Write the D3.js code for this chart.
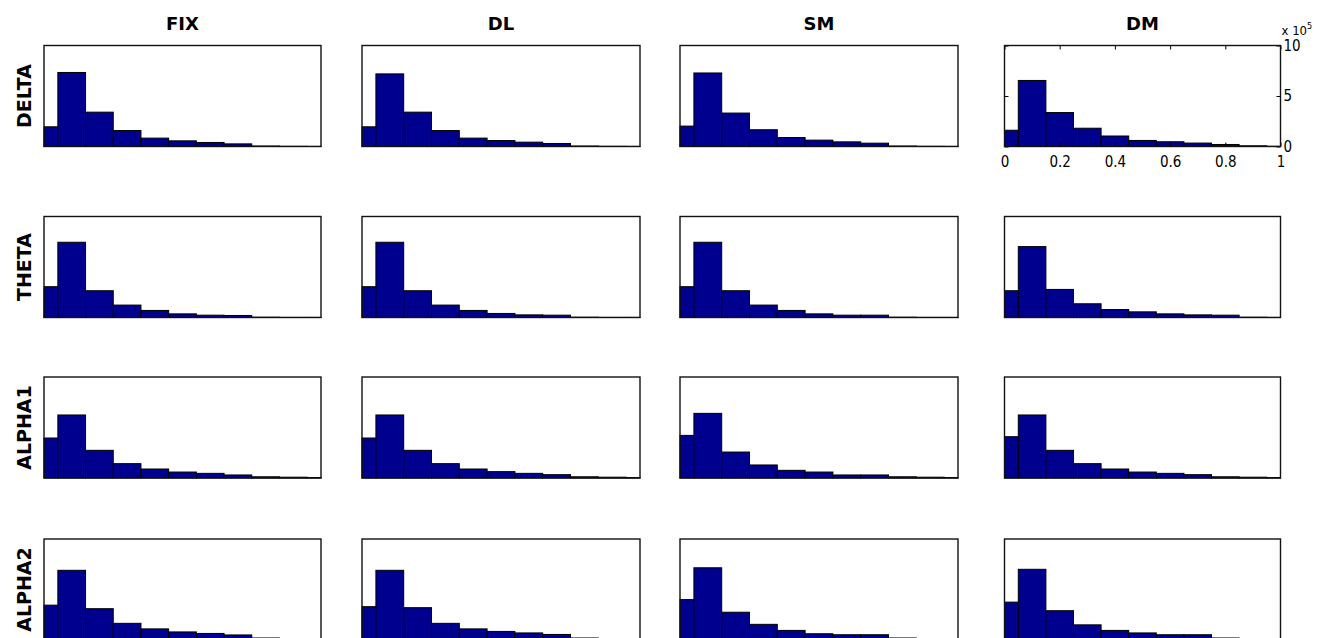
<!DOCTYPE html>
<html>
<head>
<meta charset="utf-8">
<script src="https://cdn.jsdelivr.net/npm/d3@7"></script>
<style>
  html, body { margin: 0; padding: 0; background: #fff; }
  svg { display: block; }
</style>
</head>
<body>
<svg id="chart" width="1333" height="638"></svg>
<script>
// ---------------- data (counts in units of 10^5) ----------------
const columnTitles = ["FIX", "DL", "SM", "DM"];
const rowTitles = ["DELTA", "THETA", "ALPHA1", "ALPHA2"];
const binCenters = [0, 0.1, 0.2, 0.3, 0.4, 0.5, 0.6, 0.7, 0.8, 0.9, 1.0];
const xTickValues = [0, 0.2, 0.4, 0.6, 0.8, 1];
const xTickLabels = ["0", "0.2", "0.4", "0.6", "0.8", "1"];
const yTickValues = [0, 5, 10];
const yTickLabels = ["0", "5", "10"];

// each list: [FIX, DL, SM, DM]
const deltaCounts = [
  [1.95, 7.33, 3.40, 1.58, 0.83, 0.56, 0.40, 0.26, 0.05, 0.02, 0.01],
  [1.95, 7.19, 3.40, 1.58, 0.83, 0.59, 0.43, 0.30, 0.05, 0.02, 0.01],
  [2.02, 7.28, 3.31, 1.66, 0.89, 0.63, 0.46, 0.33, 0.05, 0.02, 0.01],
  [1.61, 6.54, 3.36, 1.81, 1.04, 0.60, 0.47, 0.34, 0.20, 0.07, 0.02]
];
const thetaCounts = [
  [3.05, 7.45, 2.65, 1.23, 0.70, 0.36, 0.23, 0.20, 0.03, 0.01, 0.01],
  [3.05, 7.45, 2.65, 1.23, 0.70, 0.40, 0.26, 0.23, 0.03, 0.01, 0.01],
  [3.05, 7.45, 2.65, 1.23, 0.70, 0.36, 0.23, 0.23, 0.03, 0.01, 0.01],
  [2.65, 7.02, 2.78, 1.36, 0.79, 0.56, 0.36, 0.26, 0.23, 0.03, 0.01]
];
const alpha1Counts = [
  [3.96, 6.24, 2.74, 1.42, 0.89, 0.59, 0.46, 0.30, 0.12, 0.08, 0.05],
  [3.96, 6.24, 2.74, 1.42, 0.89, 0.63, 0.46, 0.33, 0.12, 0.08, 0.05],
  [4.22, 6.40, 2.57, 1.29, 0.76, 0.59, 0.30, 0.30, 0.12, 0.08, 0.05],
  [4.09, 6.24, 2.74, 1.42, 0.89, 0.59, 0.46, 0.33, 0.12, 0.08, 0.05]
];
const alpha2Counts = [
  [3.45, 6.90, 3.10, 1.65, 1.10, 0.80, 0.65, 0.50, 0.20, 0.10, 0.05],
  [3.30, 6.90, 3.20, 1.65, 1.10, 0.85, 0.70, 0.55, 0.20, 0.10, 0.05],
  [4.00, 7.15, 2.75, 1.55, 0.95, 0.62, 0.52, 0.52, 0.20, 0.10, 0.05],
  [3.75, 7.00, 2.90, 1.50, 0.95, 0.70, 0.52, 0.52, 0.20, 0.10, 0.05]
];
const countsByRow = [deltaCounts, thetaCounts, alpha1Counts, alpha2Counts];
const binWidth = 0.1;

// ---------------- layout ----------------
const colLeft = [44, 362, 680, 1004.5];
const colRight = [321, 640, 958, 1280.5];
const rowTop = [45.5, 216.5, 377, 539];
const panelH = 101;

const svg = d3.select("#chart");
const barFill = "#00008f";
const titleFont = "'DejaVu Sans', Arial, sans-serif";
const tickFont = "'DejaVu Sans Condensed', 'DejaVu Sans', Arial, sans-serif";

// column titles
columnTitles.forEach((t, c) => {
  svg.append("text")
    .attr("x", (colLeft[c] + colRight[c]) / 2)
    .attr("y", 30)
    .attr("text-anchor", "middle")
    .attr("font-family", titleFont)
    .attr("font-weight", "bold")
    .attr("font-size", 18)
    .text(t);
});

// row titles
rowTitles.forEach((t, r) => {
  const cy = rowTop[r] + panelH / 2;
  svg.append("text")
    .attr("transform", `translate(31,${cy}) rotate(-90)`)
    .attr("text-anchor", "middle")
    .attr("font-family", titleFont)
    .attr("font-weight", "bold")
    .attr("font-size", 19)
    .text(t);
});

countsByRow.forEach((rowData, r) => {
  rowData.forEach((vals, c) => {
    const x = d3.scaleLinear().domain([0, 1]).range([colLeft[c], colRight[c]]).clamp(true);
    const y = d3.scaleLinear().domain([0, 10]).range([rowTop[r] + panelH, rowTop[r]]);
    const g = svg.append("g");

    g.append("rect")
      .attr("x", colLeft[c]).attr("y", rowTop[r])
      .attr("width", colRight[c] - colLeft[c]).attr("height", panelH)
      .attr("fill", "#fff");

    g.selectAll("rect.bar")
      .data(binCenters.map((b, i) => ({ b, v: vals[i] })))
      .join("rect")
      .attr("class", "bar")
      .attr("x", d => x(d.b - binWidth / 2))
      .attr("width", d => x(d.b + binWidth / 2) - x(d.b - binWidth / 2))
      .attr("y", d => y(d.v))
      .attr("height", d => y(0) - y(d.v))
      .attr("fill", barFill)
      .attr("stroke", "#000")
      .attr("stroke-width", 1);

    if (r === 0 && c === 3) {
      const tickStyle = sel => {
        sel.selectAll(".domain").remove();
        sel.selectAll(".tick line").attr("stroke", "#000");
        sel.selectAll(".tick text")
          .attr("font-family", tickFont)
          .attr("font-size", 15)
          .attr("fill", "#000");
      };
      const xa = d3.axisBottom(x).tickValues(xTickValues)
        .tickFormat((d, i) => xTickLabels[i]).tickSizeInner(-4).tickSizeOuter(0).tickPadding(10);
      g.append("g").attr("transform", `translate(0,${rowTop[r] + panelH})`).call(xa).call(tickStyle);
      const xt = d3.axisTop(x).tickValues(xTickValues).tickFormat("").tickSizeInner(-4).tickSizeOuter(0);
      g.append("g").attr("transform", `translate(0,${rowTop[r]})`).call(xt).call(tickStyle);
      const yr = d3.axisRight(y).tickValues(yTickValues)
        .tickFormat((d, i) => yTickLabels[i]).tickSizeInner(-4).tickSizeOuter(0).tickPadding(3);
      g.append("g").attr("transform", `translate(${colRight[c]},0)`).call(yr).call(tickStyle);
      const yl = d3.axisLeft(y).tickValues(yTickValues).tickFormat("").tickSizeInner(-4).tickSizeOuter(0);
      g.append("g").attr("transform", `translate(${colLeft[c]},0)`).call(yl).call(tickStyle);

      const ex = g.append("text")
        .attr("x", colRight[c] + 1)
        .attr("y", rowTop[r] - 11)
        .attr("font-family", tickFont)
        .attr("font-size", 13)
        .attr("fill", "#000");
      ex.append("tspan").text("x 10");
      ex.append("tspan").attr("dy", -6).attr("font-size", 9).text("5");
    }

    g.append("rect")
      .attr("x", colLeft[c]).attr("y", rowTop[r])
      .attr("width", colRight[c] - colLeft[c]).attr("height", panelH)
      .attr("fill", "none")
      .attr("stroke", "#111")
      .attr("stroke-width", 1.4);
  });
});
</script>
</body>
</html>
